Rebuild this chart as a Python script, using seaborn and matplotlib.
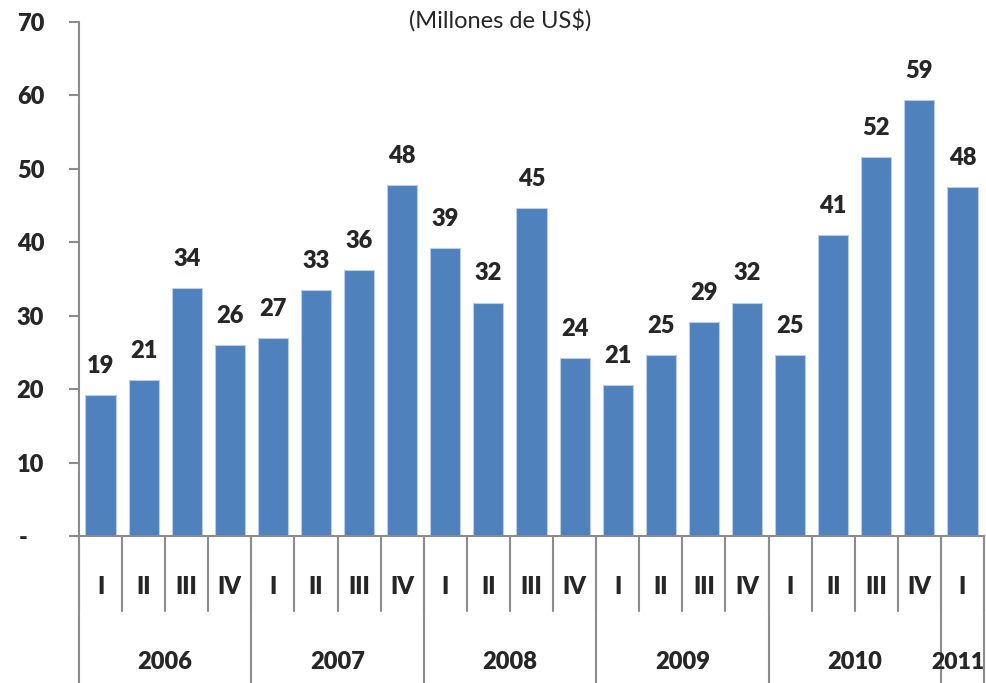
import matplotlib
matplotlib.use("Agg")
import matplotlib.pyplot as plt
import matplotlib.transforms as mtransforms
import seaborn as sns
import pandas as pd

quarters = ["I", "II", "III", "IV"] * 5 + ["I"]
years = ["2006", "2007", "2008", "2009", "2010", "2011"]
year_counts = [4, 4, 4, 4, 4, 1]
values = [19.2, 21.3, 33.8, 26.0, 27.0, 33.5, 36.2, 47.8, 39.2, 31.8, 44.7, 24.3,
          20.6, 24.7, 29.1, 31.8, 24.7, 41.0, 51.6, 59.4, 47.5]
labels = [19, 21, 34, 26, 27, 33, 36, 48, 39, 32, 45, 24, 21, 25, 29, 32, 25, 41, 52, 59, 48]
yticks = [0, 10, 20, 30, 40, 50, 60, 70]
ytick_labels = ["-   ", "10", "20", "30", "40", "50", "60", "70"]
title = "(Millones de US$)"

period_ids = []
k = 0
for y, c in zip(years, year_counts):
    for q in range(c):
        period_ids.append(f"{y}-{quarters[k]}")
        k += 1
df = pd.DataFrame({"periodo": period_ids, "valor": values})

sns.set_style("white")
plt.rcParams["font.family"] = ["Lato", "DejaVu Sans"]

fig = plt.figure(figsize=(9.87, 6.83), dpi=100)
ax = fig.add_axes([0.080, 0.215, 0.917, 0.753])

grey = "#8c8c8c"
FS = 17
W = "heavy"
sns.barplot(data=df, x="periodo", y="valor", color="#4F81BD", saturation=1,
            width=0.70, edgecolor="#b9cde5", linewidth=0.8, ax=ax, order=period_ids)

ax.set_xlim(-0.5, len(values) - 0.5)
ax.set_ylim(0, 70)
ax.set_yticks(yticks)
ax.set_yticklabels(ytick_labels, fontsize=FS, fontweight=W)
ax.tick_params(axis="y", direction="out", length=7, width=1.5, color=grey, pad=18, left=True)
ax.set_xticks([])
ax.set_xlabel("")
ax.set_ylabel("")
for s in ["top", "right"]:
    ax.spines[s].set_visible(False)
for s in ["left", "bottom"]:
    ax.spines[s].set_color(grey)
    ax.spines[s].set_linewidth(1.5)

ax.plot([-0.5 - 0.19, -0.5], [0, 0], color=grey, lw=1.5, clip_on=False)

for i, (v, lab) in enumerate(zip(values, labels)):
    ax.annotate(str(lab), (i, v), xytext=(0, 13), textcoords="offset points",
                ha="center", va="bottom", fontsize=FS, fontweight=W)

trans = mtransforms.blended_transform_factory(ax.transData, ax.transAxes)
q_bottom = -0.146
y_bottom = -0.29
for i in range(len(values) + 1):
    ax.plot([i - 0.5, i - 0.5], [0, q_bottom], transform=trans, color=grey, lw=1.5, clip_on=False)
start = 0
bounds = [0]
for c in year_counts:
    start += c
    bounds.append(start)
for b in bounds:
    ax.plot([b - 0.5, b - 0.5], [0, y_bottom], transform=trans, color=grey, lw=1.5, clip_on=False)

for i, q in enumerate(quarters):
    ax.text(i, -0.099, q, transform=trans, ha="center", va="center", fontsize=FS, fontweight=W)
for j, (y, a, b) in enumerate(zip(years, bounds[:-1], bounds[1:])):
    shift = -3 if j == len(years) - 1 else 0
    ax.annotate(y, ((a + b - 1) / 2, -0.245), xycoords=trans, xytext=(shift, 0),
                textcoords="offset points", ha="center", va="center",
                fontsize=FS - 0.5 if j == len(years) - 1 else FS, fontweight=W,
                annotation_clip=False)

fig.text(0.507, 0.970, title, ha="center", va="center", fontsize=17)

fig.savefig("out.png", dpi=100)
